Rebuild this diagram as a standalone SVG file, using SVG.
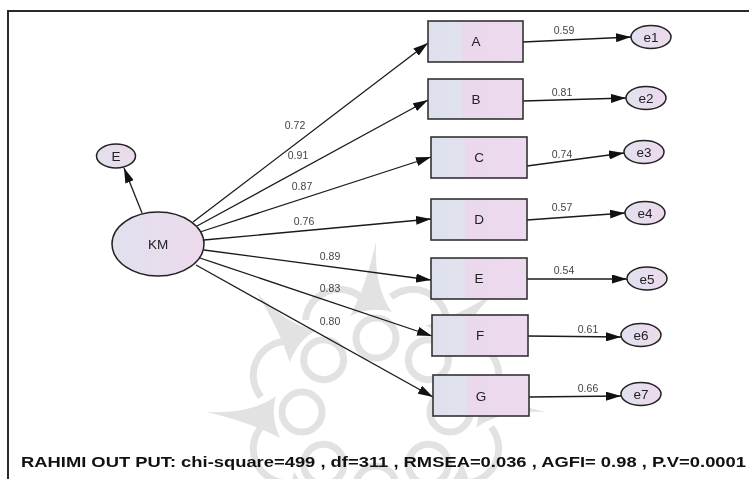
<svg xmlns="http://www.w3.org/2000/svg" width="749" height="479" viewBox="0 0 749 479">
  <defs>
    <linearGradient id="boxFill" x1="0" y1="0" x2="1" y2="0">
      <stop offset="0" stop-color="#dde1ec"/>
      <stop offset="0.34" stop-color="#e1e2ee"/>
      <stop offset="0.37" stop-color="#ead8ec"/>
      <stop offset="1" stop-color="#eedaee"/>
    </linearGradient>
    <linearGradient id="ovalFill" x1="0" y1="0" x2="1" y2="0">
      <stop offset="0" stop-color="#e2e0ee"/>
      <stop offset="1" stop-color="#ecdaec"/>
    </linearGradient>
    <marker id="arrow" viewBox="0 0 15 9" refX="15" refY="4.5" markerWidth="15" markerHeight="9" markerUnits="userSpaceOnUse" orient="auto">
      <path d="M0,0 L15,4.5 L0,9 Z" fill="#111"/>
    </marker>
    <!-- ornament pieces for the faded background emblem -->
    <path id="horn" d="M-26,-96 Q-10,-126 0,-170 Q-2,-124 16,-100 Q-4,-106 -26,-96 Z"/>
    <path id="arcPiece" d="M-30,-112 A34,34 0 0 1 30,-112"/>
    <circle id="ring" cx="0" cy="-74" r="20"/>
    <style>
      .box { fill: url(#boxFill); stroke: #333; stroke-width: 1.6; }
      .oval { fill: url(#ovalFill); stroke: #222; stroke-width: 1.5; }
      .edge { stroke: #1a1a1a; stroke-width: 1.3; fill: none; marker-end: url(#arrow); }
      .lbl { font-family: "Liberation Sans", Arial, sans-serif; font-size: 13.5px; fill: #222; text-anchor: middle; }
      .coef { font-family: "Liberation Sans", Arial, sans-serif; font-size: 10.5px; fill: #444; text-anchor: middle; }
      .note { font-family: "Liberation Sans", Arial, sans-serif; font-size: 14px; font-weight: bold; fill: #111; }
      .orn { fill: #cfcfcf; }
      .ornLine { fill: none; stroke: #cfcfcf; stroke-width: 7; }
    </style>
  </defs>

  <rect x="0" y="0" width="749" height="479" fill="#ffffff"/>

  <!-- faded background emblem -->
  <g id="emblem" opacity="0.6" transform="translate(376,412)">
    <g class="orn">
      <use href="#horn"/>
      <use href="#horn" transform="rotate(45)"/>
      <use href="#horn" transform="rotate(90)"/>
      <use href="#horn" transform="rotate(135)"/>
      <use href="#horn" transform="rotate(180)"/>
      <use href="#horn" transform="rotate(225)"/>
      <use href="#horn" transform="rotate(270)"/>
      <use href="#horn" transform="rotate(315)"/>
    </g>
    <g class="ornLine">
      <use href="#ring"/>
      <use href="#ring" transform="rotate(45)"/>
      <use href="#ring" transform="rotate(90)"/>
      <use href="#ring" transform="rotate(135)"/>
      <use href="#ring" transform="rotate(180)"/>
      <use href="#ring" transform="rotate(225)"/>
      <use href="#ring" transform="rotate(270)"/>
      <use href="#ring" transform="rotate(315)"/>
      <use href="#arcPiece" transform="rotate(22.5)"/>
      <use href="#arcPiece" transform="rotate(67.5)"/>
      <use href="#arcPiece" transform="rotate(112.5)"/>
      <use href="#arcPiece" transform="rotate(157.5)"/>
      <use href="#arcPiece" transform="rotate(202.5)"/>
      <use href="#arcPiece" transform="rotate(247.5)"/>
      <use href="#arcPiece" transform="rotate(292.5)"/>
      <use href="#arcPiece" transform="rotate(337.5)"/>
    </g>
  </g>

  <!-- frame -->
  <path d="M8,479 L8,11 L749,11" fill="none" stroke="#2a2a2a" stroke-width="2"/>

  <!-- connectors -->
  <g id="connectors">
    <line class="edge" x1="142" y1="213" x2="124" y2="168"/>
    <line class="edge" x1="193" y1="222" x2="428" y2="43"/>
    <line class="edge" x1="197" y1="226" x2="428" y2="100"/>
    <line class="edge" x1="200" y1="232" x2="431" y2="157"/>
    <line class="edge" x1="204" y1="240" x2="431" y2="219"/>
    <line class="edge" x1="204" y1="250" x2="431" y2="280"/>
    <line class="edge" x1="200" y1="258" x2="432" y2="336"/>
    <line class="edge" x1="196" y1="265" x2="433" y2="397"/>

    <line class="edge" x1="523" y1="42" x2="631" y2="37"/>
    <line class="edge" x1="523" y1="101" x2="626" y2="98"/>
    <line class="edge" x1="527" y1="166" x2="624" y2="153"/>
    <line class="edge" x1="527" y1="220" x2="625" y2="213"/>
    <line class="edge" x1="527" y1="279" x2="627" y2="279"/>
    <line class="edge" x1="528" y1="336" x2="621" y2="337"/>
    <line class="edge" x1="529" y1="397" x2="621" y2="396"/>

    <text class="coef" x="295" y="129">0.72</text>
    <text class="coef" x="298" y="159">0.91</text>
    <text class="coef" x="302" y="190">0.87</text>
    <text class="coef" x="304" y="225">0.76</text>
    <text class="coef" x="330" y="260">0.89</text>
    <text class="coef" x="330" y="292">0.83</text>
    <text class="coef" x="330" y="325">0.80</text>

    <text class="coef" x="564" y="34">0.59</text>
    <text class="coef" x="562" y="96">0.81</text>
    <text class="coef" x="562" y="158">0.74</text>
    <text class="coef" x="562" y="211">0.57</text>
    <text class="coef" x="564" y="274">0.54</text>
    <text class="coef" x="588" y="333">0.61</text>
    <text class="coef" x="588" y="392">0.66</text>
  </g>

  <!-- latent factor and its residual -->
  <g id="node-KM">
    <ellipse class="oval" cx="158" cy="244" rx="46" ry="32"/>
    <text class="lbl" x="158" y="249">KM</text>
  </g>
  <g id="node-E-residual">
    <ellipse class="oval" cx="116" cy="156" rx="19.5" ry="12"/>
    <text class="lbl" x="116" y="161">E</text>
  </g>

  <!-- observed indicators -->
  <g id="node-A">
    <rect class="box" x="428" y="21" width="95" height="41"/>
    <text class="lbl" x="476" y="46">A</text>
  </g>
  <g id="node-B">
    <rect class="box" x="428" y="79" width="95" height="40"/>
    <text class="lbl" x="476" y="104">B</text>
  </g>
  <g id="node-C">
    <rect class="box" x="431" y="137" width="96" height="41"/>
    <text class="lbl" x="479" y="162">C</text>
  </g>
  <g id="node-D">
    <rect class="box" x="431" y="199" width="96" height="41"/>
    <text class="lbl" x="479" y="224">D</text>
  </g>
  <g id="node-E">
    <rect class="box" x="431" y="258" width="96" height="41"/>
    <text class="lbl" x="479" y="283">E</text>
  </g>
  <g id="node-F">
    <rect class="box" x="432" y="315" width="96" height="41"/>
    <text class="lbl" x="480" y="340">F</text>
  </g>
  <g id="node-G">
    <rect class="box" x="433" y="375" width="96" height="41"/>
    <text class="lbl" x="481" y="401">G</text>
  </g>

  <!-- error terms -->
  <g id="node-e1">
    <ellipse class="oval" cx="651" cy="37" rx="20" ry="11.5"/>
    <text class="lbl" x="651" y="42">e1</text>
  </g>
  <g id="node-e2">
    <ellipse class="oval" cx="646" cy="98" rx="20" ry="11.5"/>
    <text class="lbl" x="646" y="103">e2</text>
  </g>
  <g id="node-e3">
    <ellipse class="oval" cx="644" cy="152" rx="20" ry="11.5"/>
    <text class="lbl" x="644" y="157">e3</text>
  </g>
  <g id="node-e4">
    <ellipse class="oval" cx="645" cy="213" rx="20" ry="11.5"/>
    <text class="lbl" x="645" y="218">e4</text>
  </g>
  <g id="node-e5">
    <ellipse class="oval" cx="647" cy="278.5" rx="20" ry="11.5"/>
    <text class="lbl" x="647" y="283.5">e5</text>
  </g>
  <g id="node-e6">
    <ellipse class="oval" cx="641" cy="335" rx="20" ry="11.5"/>
    <text class="lbl" x="641" y="340">e6</text>
  </g>
  <g id="node-e7">
    <ellipse class="oval" cx="641" cy="394" rx="20" ry="11.5"/>
    <text class="lbl" x="641" y="399">e7</text>
  </g>

  <!-- fit summary -->
  <text class="note" x="21" y="467" textLength="725" lengthAdjust="spacingAndGlyphs">RAHIMI OUT PUT: chi-square=499 , df=311 , RMSEA=0.036 , AGFI= 0.98 , P.V=0.0001</text>
</svg>
